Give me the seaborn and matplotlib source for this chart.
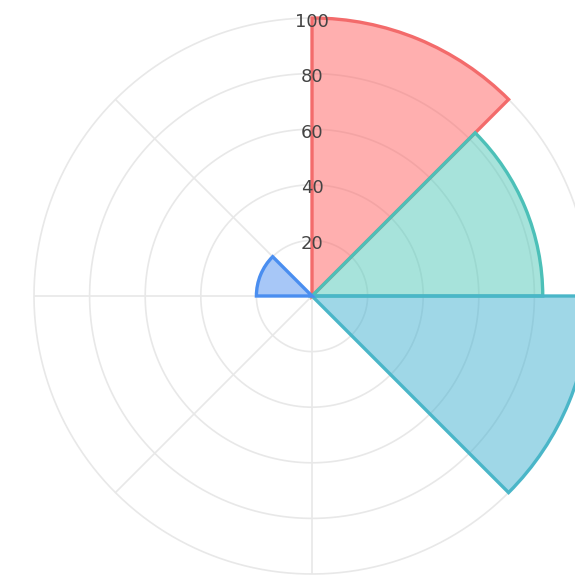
"""
Polar area chart: eight equal sectors, four of them with values.
"""
import numpy as np
import matplotlib
matplotlib.use('Agg')
import matplotlib.pyplot as plt
import seaborn as sns

categories = ["A", "B", "C", "D", "E", "F", "G", "H"]
values = [100, 83, 100, 0, 0, 0, 20, 0]
fill_colors = ["#ff6161", "#51c9b9", "#41b1d1", "#999999", "#999999", "#999999", "#5191f1", "#999999"]
edge_colors = ["#f36b6b", "#4cc0b8", "#4ab6c8", "#999999", "#999999", "#999999", "#4a8ef0", "#999999"]
rticks = [20, 40, 60, 80, 100]
rtick_labels = ["20", "40", "60", "80", "100"]

sns.set_style("white")

fig = plt.figure(figsize=(5.75, 5.75), dpi=100)
# centre sits at (312, 296) px, radius 100 -> 278 px; right side runs off the canvas
ax = fig.add_axes([34 / 575, 1 / 575, 556 / 575, 556 / 575], projection='polar')
ax.set_theta_zero_location('N')
ax.set_theta_direction(-1)

n = len(categories)
width = 2 * np.pi / n
theta = np.arange(n) * width

# grid drawn by hand so the fills sit on top of it
grid_col = "#e8e8e8"
tt = np.linspace(0, 2 * np.pi, 400)
for r in rticks:
    ax.plot(tt, np.full_like(tt, r), color=grid_col, lw=1.2, zorder=1, clip_on=False)
for t in theta:
    ax.plot([t, t], [0, 100], color=grid_col, lw=1.2, zorder=1)

for t, v, fc, ec in zip(theta, values, fill_colors, edge_colors):
    if v <= 0:
        continue
    ax.bar(t, v, width=width, align='edge', color=fc, alpha=0.5, zorder=2)
    ax.bar(t, v, width=width, align='edge', fill=False, edgecolor=ec, lw=2.4,
           zorder=3, clip_on=False)

for r, lab in zip(rticks, rtick_labels):
    ax.text(0, r - 1.3, lab, ha='center', va='center', fontsize=13,
            color="#444444", zorder=5)

ax.set_ylim(0, 100)
ax.set_xticks([])
ax.set_yticks([])
ax.grid(False)
ax.spines['polar'].set_visible(False)
ax.set_facecolor("none")

fig.savefig("out.png", dpi=100)
plt.close(fig)
